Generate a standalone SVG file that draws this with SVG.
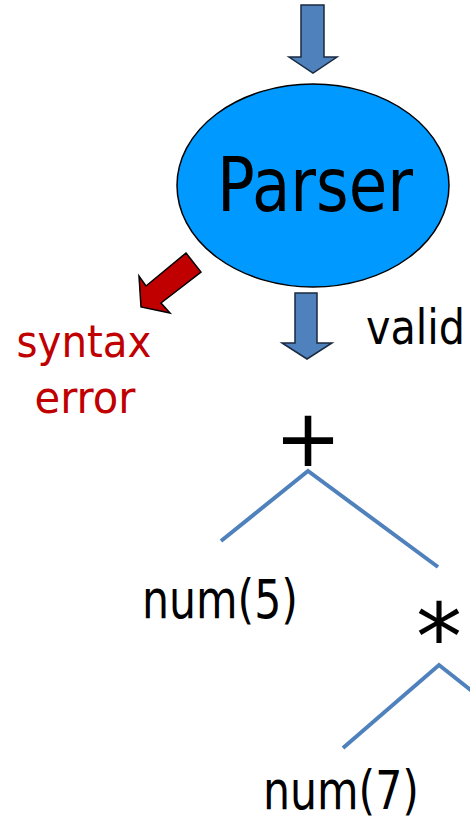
<svg xmlns="http://www.w3.org/2000/svg" width="470" height="824" viewBox="0 0 470 824">
<style>
.t{font-family:"DejaVu Sans","Noto Sans",sans-serif;fill:#000}
.red{fill:#C00000}
.arr{fill:#4F81BD;stroke:#1a2a40;stroke-width:1.5;stroke-linejoin:miter}
.edge{stroke:#4F81BD;stroke-width:4;fill:none}
</style>
<rect width="470" height="824" fill="#fff"/>
<g id="connectors">
<polygon class="arr" points="301,5 324,5 324,57 337,57 313,73 289,57 301,57"/>
<polygon class="arr" points="295,293 317,293 317,343 332,343 307,359 282,343 295,343"/>
<polygon points="186,253 201,272 161,303 170,313 141,307 139,276 146,286" fill="#C00000" stroke="#000" stroke-width="1.5"/>
<polyline class="edge" points="221,541 308,471 438,567"/>
<polyline class="edge" points="343,748 439,665 472,691"/>
</g>
<g id="parser">
<ellipse cx="313" cy="185.5" rx="136" ry="101.5" fill="#0099FF" stroke="#000" stroke-width="1.5"/>
<text class="t" x="315" y="211" font-size="75" text-anchor="middle" textLength="196" lengthAdjust="spacingAndGlyphs">Parser</text>
</g>
<g id="syntax-error">
<text class="t red" x="84" y="357" font-size="45" text-anchor="middle" textLength="135" lengthAdjust="spacingAndGlyphs">syntax</text>
<text class="t red" x="85" y="413" font-size="45" text-anchor="middle" textLength="101" lengthAdjust="spacingAndGlyphs">error</text>
</g>
<g id="valid">
<text class="t" x="366" y="344" font-size="48" textLength="99" lengthAdjust="spacingAndGlyphs">valid</text>
</g>
<g id="plus">
<text class="t" x="308" y="466" font-size="80" text-anchor="middle">+</text>
</g>
<g id="num5">
<text class="t" x="142" y="618" font-size="54" textLength="156" lengthAdjust="spacingAndGlyphs">num(5)</text>
</g>
<g id="times">
<text class="t" x="439" y="670" font-size="92" text-anchor="middle">*</text>
</g>
<g id="num7">
<text class="t" x="263" y="809" font-size="54" textLength="156" lengthAdjust="spacingAndGlyphs">num(7)</text>
</g>
</svg>
